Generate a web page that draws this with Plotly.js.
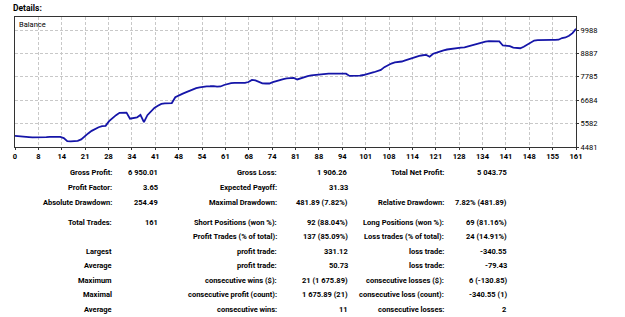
<!DOCTYPE html>
<html>
<head>
<meta charset="utf-8">
<script src="https://cdn.plot.ly/plotly-3.0.1.min.js"></script>
<style>
html,body{margin:0;padding:0;background:#fff;}
#chart{width:625px;height:317px;}
</style>
</head>
<body>
<div id="chart"></div>
<script>
// ---- data ----
const tradeIndex = Array.from({length: 162}, (_, i) => i);
const balance = [
  5000, 4995, 4990, 4975, 4950, 4935, 4930, 4935, 4940, 4950,
  4960, 4965, 4960, 4955, 4900, 4760, 4746, 4752, 4770, 4840,
  4990, 5120, 5240, 5330, 5410, 5460, 5480, 5700, 5860, 5980,
  6090, 6100, 6100, 5810, 5830, 5870, 5990, 5650, 5980, 6150,
  6320, 6420, 6510, 6530, 6545, 6550, 6820, 6920, 6980, 7050,
  7120, 7190, 7250, 7290, 7320, 7335, 7340, 7350, 7320, 7330,
  7400, 7445, 7490, 7495, 7495, 7500, 7500, 7540, 7640, 7620,
  7560, 7480, 7470, 7470, 7530, 7590, 7640, 7680, 7710, 7725,
  7730, 7660, 7720, 7780, 7820, 7850, 7870, 7895, 7910, 7930,
  7935, 7935, 7935, 7935, 7935, 7930, 7825, 7830, 7810, 7840,
  7870, 7900, 7955, 8000, 8050, 8110, 8240, 8340, 8410, 8460,
  8480, 8505, 8560, 8620, 8670, 8705, 8770, 8800, 8815, 8730,
  8870, 8920, 8990, 9030, 9070, 9100, 9120, 9140, 9155, 9170,
  9220, 9260, 9310, 9360, 9400, 9440, 9460, 9460, 9460, 9455,
  9260, 9245, 9225, 9155, 9135, 9130, 9200, 9310, 9400, 9490,
  9515, 9525, 9525, 9525, 9525, 9525, 9530, 9610, 9635, 9720,
  9840, 10043.75
];
const xTickLabels = ["0","8","14","21","28","34","41","48","54","61","68","74","81","88","94","101","108","114","121","128","134","141","148","155","161"];
const yTickValues = [4481, 5582, 6684, 7785, 8887, 9988];

const col1Labels = ["Gross Profit:", "Profit Factor:", "Absolute Drawdown:", "Total Trades:", "", "Largest", "Average", "Maximum", "Maximal", "Average"];
const col1Values = ["6 950.01", "3.65", "254.49", "161", "", "", "", "", "", ""];
const col2Labels = ["Gross Loss:", "Expected Payoff:", "Maximal Drawdown:", "Short Positions (won %):", "Profit Trades (% of total):", "profit trade:", "profit trade:", "consecutive wins ($):", "consecutive profit (count):", "consecutive wins:"];
const col2Values = ["1 906.26", "31.33", "481.89 (7.82%)", "92 (88.04%)", "137 (85.09%)", "331.12", "50.73", "21 (1 675.89)", "1 675.89 (21)", "11"];
const col3Labels = ["Total Net Profit:", "", "Relative Drawdown:", "Long Positions (won %):", "Loss trades (% of total):", "loss trade:", "loss trade:", "consecutive losses ($):", "consecutive loss (count):", "consecutive losses:"];
const col3Values = ["5 043.75", "", "7.82% (481.89)", "69 (81.16%)", "24 (14.91%)", "-340.55", "-79.43", "6 (-130.85)", "-340.55 (1)", "2"];

// ---- layout helpers ----
const W = 625, H = 317;
const PL = 15, PR = 576, PT = 17, PB = 147;
const pw = PR - PL, ph = PB - PT;
const fx = px => (px - PL) / pw;
const fy = py => (PB - py) / ph;
const FONT = 'Roboto, "Liberation Sans", Arial, sans-serif';

const rowY = [172, 187, 202, 222, 236, 251, 265, 280, 294, 309];
const colRight = [114, 160, 279, 350, 446, 509];
const cols = [col1Labels, col1Values, col2Labels, col2Values, col3Labels, col3Values];

const annotations = [];
cols.forEach((arr, c) => {
  arr.forEach((t, r) => {
    if (!t) return;
    annotations.push({
      text: t, xref: 'paper', yref: 'paper',
      x: fx(colRight[c]), y: fy(rowY[r]),
      xanchor: 'right', yanchor: 'middle', showarrow: false,
      font: {family: FONT, size: 7.5, color: '#000', weight: 'bold'}
    });
  });
});
annotations.push({
  text: 'Details:', xref: 'paper', yref: 'paper',
  x: fx(11), y: fy(8), xanchor: 'left', yanchor: 'middle', showarrow: false,
  font: {family: FONT, size: 8.5, color: '#000', weight: 'bold'}
});
annotations.push({
  text: 'Balance', xref: 'paper', yref: 'paper',
  x: fx(17), y: fy(24), xanchor: 'left', yanchor: 'middle', showarrow: false,
  font: {family: FONT, size: 7.5, color: '#000'}
});

const xTickVals = xTickLabels.map((_, i) => i * 161 / (xTickLabels.length - 1));

const trace = {
  x: tradeIndex, y: balance, type: 'scatter', mode: 'lines',
  line: {color: '#1515a8', width: 1.8},
  hoverinfo: 'skip'
};

const layout = {
  width: W, height: H,
  margin: {l: PL, r: W - PR, t: PT, b: H - PB, pad: 0},
  paper_bgcolor: '#fff', plot_bgcolor: '#fff',
  showlegend: false,
  xaxis: {
    range: [0, 161], tickvals: xTickVals, ticktext: xTickLabels,
    showgrid: true, gridcolor: '#c8c8c8', griddash: '3px,2px', gridwidth: 1,
    zeroline: false, showline: true, linecolor: '#333', linewidth: 1, mirror: true,
    ticks: 'outside', ticklen: 2, tickcolor: '#333',
    tickfont: {family: FONT, size: 7.5, color: '#000', weight: 'bold'}
  },
  yaxis: {
    range: [4481, 10600], tickvals: yTickValues, ticktext: yTickValues.map(String),
    side: 'right',
    showgrid: true, gridcolor: '#c8c8c8', griddash: '3px,2px', gridwidth: 1,
    zeroline: false, showline: true, linecolor: '#333', linewidth: 1, mirror: true,
    ticks: 'outside', ticklen: 2, tickcolor: '#333',
    tickfont: {family: FONT, size: 7.5, color: '#000'}
  },
  annotations: annotations
};

Plotly.newPlot('chart', [trace], layout, {displayModeBar: false, staticPlot: true});
</script>
</body>
</html>
